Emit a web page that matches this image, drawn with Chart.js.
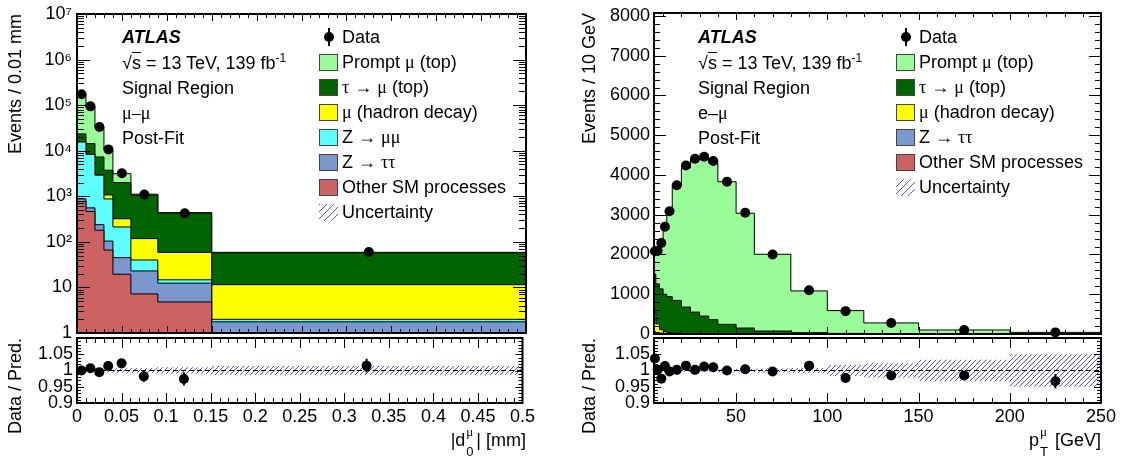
<!DOCTYPE html>
<html>
<head>
<meta charset="utf-8">
<title>ATLAS post-fit muon distributions</title>
<script src="https://cdn.jsdelivr.net/npm/chart.js@4.4.1/dist/chart.umd.min.js"></script>
<style>
  body { margin: 0; background: #fff; font-family: "Liberation Sans", Arial, sans-serif; }
  #page { position: relative; width: 1122px; height: 466px; overflow: hidden; background: #fff; }
  canvas { position: absolute; }
  .t { position: absolute; font-size: 18px; line-height: 20px; white-space: nowrap; color: #000; }
  .b { font-weight: bold; font-style: italic; }
  .g { font-family: "Liberation Serif", "DejaVu Serif", serif; }
  sup { font-size: 12px; line-height: 0; vertical-align: 7px; }
  .ss { position: relative; display: inline-block; width: 11px; height: 1px; }
  .ss .up { position: absolute; left: 1px; bottom: 8px; font-size: 13px; line-height: 13px; }
  .ss .dn { position: absolute; left: 1px; top: 0; font-size: 13px; line-height: 13px; }
  .key { position: absolute; width: 19px; height: 17px; box-sizing: border-box; border: 1px solid #444; }
  .hatch { border: none; background: repeating-linear-gradient(135deg, #5555ff 0 1px, transparent 1px 5px); }
  .dot { position: absolute; width: 10px; height: 10px; border-radius: 50%; background: #000; }
  .bar { position: absolute; width: 2px; height: 18px; background: #000; }
</style>
</head>
<body>
<div id="page">
  <canvas id="d0Main" width="540" height="347" style="left:0;top:0"></canvas>
  <canvas id="d0Ratio" width="540" height="140" style="left:0;top:325px"></canvas>
  <canvas id="ptMain" width="561" height="347" style="left:561px;top:0"></canvas>
  <canvas id="ptRatio" width="561" height="140" style="left:561px;top:325px"></canvas>

  <div class="t b" style="left:122px;top:27px">ATLAS</div>
  <div class="t" style="left:122px;top:53px">√<span style="text-decoration:overline">s</span> = 13 TeV, 139 fb<sup>-1</sup></div>
  <div class="t" style="left:122px;top:78px">Signal Region</div>
  <div class="t" style="left:122px;top:103px"><span class="g">μ–μ</span></div>
  <div class="t" style="left:122px;top:128px">Post-Fit</div>

  <div class="t b" style="left:698px;top:27px">ATLAS</div>
  <div class="t" style="left:698px;top:53px">√<span style="text-decoration:overline">s</span> = 13 TeV, 139 fb<sup>-1</sup></div>
  <div class="t" style="left:698px;top:78px">Signal Region</div>
  <div class="t" style="left:698px;top:103px">e–<span class="g">μ</span></div>
  <div class="t" style="left:698px;top:128px">Post-Fit</div>

  <div class="t" style="right:596px;top:430px">|d<span class="ss"><span class="up g">μ</span><span class="dn">0</span></span>| [mm]</div>
  <div class="t" style="right:21px;top:430px">p<span class="ss"><span class="up g">μ</span><span class="dn">T</span></span> [GeV]</div>
</div>
<script>
// ---- left: muon |d0|, mu-mu channel, events / 0.01 mm ----
const d0Edges = [0, 0.01, 0.02, 0.03, 0.04, 0.06, 0.09, 0.15, 0.5];
const d0Data = [174000, 94000, 33000, 10700, 3200, 1090, 426, 60];
const d0Prompt = [150600, 78600, 25700, 6870, 1130, 40, 7, 1.4];
const d0TauMu = [7800, 6040, 4340, 2660, 1680, 952, 371, 46];
const d0HadMu = [100, 60, 50, 196, 109, 78, 44, 9.5];
const d0Zmumu = [14600, 7740, 2670, 770, 167, 17, 2.3, 0.24];
const d0Ztautau = [108, 92, 58, 38, 25.5, 15.8, 7.6, 1.26];
const d0Other = [766, 465, 180, 66, 19.5, 7.2, 4.8, 0.5];
const d0Ratio = [1.0, 1.007, 0.995, 1.014, 1.022, 0.982, 0.974, 1.015];
const d0RatioErr = [0.002, 0.003, 0.004, 0.007, 0.012, 0.017, 0.02, 0.021];
const d0Unc = [0.004, 0.004, 0.005, 0.006, 0.007, 0.008, 0.01, 0.014];

// ---- right: muon pT, e-mu channel, events / 10 GeV ----
const ptEdges = [5, 6, 8, 10, 12, 15, 20, 25, 30, 35, 40, 50, 60, 80, 100, 120, 150, 200, 250];
const ptData = [2080, 2090, 2290, 2700, 3090, 3740, 4240, 4410, 4460, 4350, 3830, 3050, 2000, 1100, 575, 275, 100, 40];
const ptPrompt = [496, 826, 1214, 1663, 2159, 2888, 3500, 3850, 3956, 3947, 3587, 2888, 1931, 1051, 574, 271, 97.5, 39.4];
const ptTauMu = [975, 1005, 1025, 941, 905, 827, 667, 544, 446, 356, 240, 148, 73, 32, 14, 7.6, 3.7, 1.9];
const ptHadMu = [480, 220, 90, 45, 25, 10, 4, 2, 1, 1, 0.5, 0.3, 0.2, 0.1, 0.1, 0, 0, 0];
const ptZtautau = [30, 20, 10, 6, 4, 3, 2, 2, 1, 1, 1, 0.5, 0.5, 0.3, 0.2, 0.1, 0.1, 0];
const ptOther = [25, 15, 10, 8, 6, 5, 4, 3, 3, 2, 2, 1, 1, 1, 0.5, 0.3, 0.2, 0.1];
const ptRatio = [1.037, 1.002, 0.975, 1.014, 0.997, 1.002, 1.015, 1.002, 1.012, 1.01, 1.0, 1.004, 0.997, 1.015, 0.977, 0.985, 0.985, 0.967];
const ptRatioErr = [0.01, 0.008, 0.007, 0.006, 0.005, 0.004, 0.004, 0.004, 0.004, 0.004, 0.003, 0.004, 0.004, 0.005, 0.007, 0.01, 0.012, 0.022];
const ptUnc = [0.004, 0.004, 0.004, 0.004, 0.004, 0.004, 0.004, 0.004, 0.004, 0.004, 0.005, 0.005, 0.006, 0.008, 0.017, 0.022, 0.033, 0.05];

// tick labels
const d0YTicks = [1, 10, 100, 1e3, 1e4, 1e5, 1e6, 1e7];
const d0YLabels = ['1', '10', '10²', '10³', '10⁴', '10⁵', '10⁶', '10⁷'];
const d0XTicks = [0, 0.05, 0.1, 0.15, 0.2, 0.25, 0.3, 0.35, 0.4, 0.45, 0.5];
const d0XLabels = ['0', '0.05', '0.1', '0.15', '0.2', '0.25', '0.3', '0.35', '0.4', '0.45', '0.5'];
const ptYTicks = [0, 1000, 2000, 3000, 4000, 5000, 6000, 7000, 8000];
const ptYLabels = ['0', '1000', '2000', '3000', '4000', '5000', '6000', '7000', '8000'];
const ptXTicks = [50, 100, 150, 200, 250];
const ptXLabels = ['50', '100', '150', '200', '250'];
const ratioTicks = [0.9, 0.95, 1, 1.05];
const ratioLabels = ['0.9', '0.95', '1', '1.05'];

const colors = {
  prompt: 'rgb(153,252,153)',
  tauMu: 'rgb(0,100,0)',
  hadMu: 'rgb(255,255,0)',
  zmumu: 'rgb(94,255,255)',
  ztautau: 'rgb(122,152,206)',
  other: 'rgb(204,98,98)'
};

Chart.defaults.font.family = '"Liberation Sans", Arial, sans-serif';
Chart.defaults.color = '#000';

function steps(edges, vals) {
  const pts = vals.map((v, i) => ({ x: edges[i], y: v }));
  pts.push({ x: edges[edges.length - 1], y: vals[vals.length - 1] });
  return pts;
}
function centres(edges) {
  return edges.slice(1).map((e, i) => (e + edges[i]) / 2);
}
function running(layers) {
  let sum = layers[0].map(() => 0);
  return layers.map(l => (sum = sum.map((s, i) => s + l[i])));
}
function range(a, b, step) {
  const out = [];
  for (let v = a; v <= b + step / 1000; v += step) out.push(+v.toFixed(4));
  return out;
}
function logMinors(decades) {
  const out = [];
  for (let k = 0; k < decades; k++) for (let m = 2; m <= 9; m++) out.push(m * Math.pow(10, k));
  return out;
}
// pixel exact "/" hatch so the blue stays solid
function hatch() {
  const c = document.createElement('canvas');
  c.width = c.height = 5;
  const g = c.getContext('2d');
  g.fillStyle = '#4d4dff';
  for (let i = 0; i < 5; i++) g.fillRect(i, 4 - i, 1, 1);
  return g.createPattern(c, 'repeat');
}

// ROOT style frame with inward ticks on all four sides
const rootFrame = {
  id: 'rootFrame',
  afterDraw(chart, args, o) {
    const { ctx, chartArea: a } = chart;
    const x = chart.scales.x, y = chart.scales.y;
    ctx.save();
    ctx.strokeStyle = '#000';
    ctx.lineWidth = 1;
    ctx.beginPath();
    const xt = (vals, len) => vals.forEach(v => {
      const p = Math.round(x.getPixelForValue(v)) + 0.5;
      if (p < a.left || p > a.right) return;
      ctx.moveTo(p, a.bottom); ctx.lineTo(p, a.bottom - len);
      ctx.moveTo(p, a.top); ctx.lineTo(p, a.top + len);
    });
    const yt = (vals, len) => vals.forEach(v => {
      const p = Math.round(y.getPixelForValue(v)) + 0.5;
      if (p < a.top - 1 || p > a.bottom + 1) return;
      ctx.moveTo(a.left, p); ctx.lineTo(a.left + len, p);
      ctx.moveTo(a.right, p); ctx.lineTo(a.right - len, p);
    });
    xt(o.xMajor, o.xLen[0]); xt(o.xMinor, o.xLen[1]);
    yt(o.yMajor, o.yLen[0]); yt(o.yMinor, o.yLen[1]);
    ctx.stroke();
    ctx.lineWidth = 2;
    ctx.strokeRect(a.left, a.top, a.width, a.height);
    ctx.restore();
  }
};

const errorBars = {
  id: 'errorBars',
  afterDatasetsDraw(chart) {
    const { ctx } = chart;
    const y = chart.scales.y;
    chart.data.datasets.forEach((ds, i) => {
      if (!ds.errs) return;
      ctx.save();
      ctx.strokeStyle = '#000';
      ctx.lineWidth = 2;
      chart.getDatasetMeta(i).data.forEach((pt, j) => {
        const v = ds.data[j].y, e = ds.errs[j];
        ctx.beginPath();
        ctx.moveTo(pt.x, y.getPixelForValue(v - e));
        ctx.lineTo(pt.x, y.getPixelForValue(v + e));
        ctx.stroke();
      });
      ctx.restore();
    });
  }
};

function yAxis(o) {
  return {
    type: o.type || 'linear', min: o.min, max: o.max,
    afterFit: s => { s.width = o.width; },
    afterBuildTicks: s => { s.ticks = o.ticks.map(v => ({ value: v })); },
    ticks: { autoSkip: false, padding: o.pad, font: { size: 18, lineHeight: 1 }, callback: (v, i) => o.labels[i] },
    grid: { display: false, drawTicks: false },
    border: { display: false },
    title: { display: true, text: o.title, align: 'end', font: { size: 18 }, padding: { top: o.titlePad, bottom: 0 } }
  };
}

function dataPoints(edges, vals, errs) {
  return {
    data: centres(edges).map((x, i) => ({ x, y: vals[i] })),
    errs: errs,
    showLine: false, pointRadius: 5, pointBackgroundColor: '#000', pointBorderWidth: 0, clip: false
  };
}

function mainPlot(id, o) {
  const tops = running(o.layers.map(l => l.vals));
  const stack = o.layers.map((l, i) => ({
    data: steps(o.edges, tops[i]), stepped: true, fill: 'start',
    backgroundColor: l.color, borderColor: '#000', borderWidth: 1, pointRadius: 0
  }));
  return new Chart(document.getElementById(id), {
    type: 'line',
    data: { datasets: [dataPoints(o.edges, o.data), ...stack] },
    options: {
      responsive: false, animation: false, events: [],
      layout: { padding: o.padding },
      plugins: { legend: { display: false }, tooltip: { enabled: false }, rootFrame: o.frame },
      scales: {
        x: { type: 'linear', display: false, min: o.edges[0], max: o.edges[o.edges.length - 1] },
        y: yAxis(o.y)
      }
    },
    plugins: [rootFrame]
  });
}

function ratioPlot(id, o) {
  const xmin = o.edges[0], xmax = o.edges[o.edges.length - 1];
  const unity = { data: [{ x: xmin, y: 1 }, { x: xmax, y: 1 }], borderColor: '#000', borderWidth: 1, borderDash: [5, 3], pointRadius: 0 };
  const up = { data: steps(o.edges, o.unc.map(u => 1 + u)), stepped: true, fill: 3, backgroundColor: hatch(), borderWidth: 0, pointRadius: 0 };
  const lo = { data: steps(o.edges, o.unc.map(u => 1 - u)), stepped: true, fill: false, borderWidth: 0, pointRadius: 0 };
  return new Chart(document.getElementById(id), {
    type: 'line',
    data: { datasets: [dataPoints(o.edges, o.ratio, o.errs), unity, up, lo] },
    options: {
      responsive: false, animation: false, events: [],
      layout: { padding: o.padding },
      plugins: { legend: { display: false }, tooltip: { enabled: false }, rootFrame: o.frame },
      scales: {
        x: {
          type: 'linear', min: xmin, max: xmax,
          afterFit: s => { s.height = 30; },
          afterBuildTicks: s => { s.ticks = o.xTicks.map(v => ({ value: v })); },
          ticks: { autoSkip: false, maxRotation: 0, padding: 5, font: { size: 18, lineHeight: 1 }, callback: (v, i) => o.xLabels[i] },
          grid: { display: false, drawTicks: false },
          border: { display: false }
        },
        y: yAxis(o.y)
      }
    },
    plugins: [rootFrame, errorBars]
  });
}

function legend(left, top, entries) {
  const page = document.getElementById('page');
  const rows = [{ type: 'data', text: 'Data' }, ...entries, { type: 'hatch', text: 'Uncertainty' }];
  rows.forEach((r, i) => {
    const cy = top + i * 25;
    if (r.type === 'data') {
      const bar = document.createElement('div');
      bar.className = 'bar';
      bar.style.left = (left + 9) + 'px'; bar.style.top = (cy - 9) + 'px';
      page.appendChild(bar);
      const dot = document.createElement('div');
      dot.className = 'dot';
      dot.style.left = (left + 5) + 'px'; dot.style.top = (cy - 5) + 'px';
      page.appendChild(dot);
    } else {
      const key = document.createElement('div');
      key.className = r.type === 'hatch' ? 'key hatch' : 'key';
      if (r.color) key.style.background = r.color;
      key.style.left = left + 'px'; key.style.top = (cy - 8) + 'px';
      page.appendChild(key);
    }
    const t = document.createElement('div');
    t.className = 't';
    t.style.left = (left + 23) + 'px'; t.style.top = (cy - 10) + 'px';
    t.innerHTML = r.text.replace(/([μτ→])/g, '<span class="g">$1</span>');
    page.appendChild(t);
  });
}

const mainTicksX = { d0: [range(0, 0.5, 0.05), range(0, 0.5, 0.01)], pt: [range(50, 250, 50), range(10, 250, 10)] };

mainPlot('d0Main', {
  edges: d0Edges, data: d0Data,
  layers: [
    { vals: d0Other, color: colors.other },
    { vals: d0Ztautau, color: colors.ztautau },
    { vals: d0Zmumu, color: colors.zmumu },
    { vals: d0HadMu, color: colors.hadMu },
    { vals: d0TauMu, color: colors.tauMu },
    { vals: d0Prompt, color: colors.prompt }
  ],
  padding: { top: 10, right: 14, bottom: 11, left: 0 },
  y: { type: 'logarithmic', min: 1, max: 1e7, width: 77, pad: 5, ticks: d0YTicks, labels: d0YLabels, title: 'Events / 0.01 mm', titlePad: 5 },
  frame: { xMajor: mainTicksX.d0[0], xMinor: mainTicksX.d0[1], xLen: [7, 4], yMajor: d0YTicks, yMinor: logMinors(7), yLen: [13, 7] }
});

ratioPlot('d0Ratio', {
  edges: d0Edges, ratio: d0Ratio, errs: d0RatioErr, unc: d0Unc,
  xTicks: d0XTicks, xLabels: d0XLabels,
  padding: { top: 10, right: 14, bottom: 32, left: 0 },
  y: { min: 0.9, max: 1.1, width: 77, pad: 4, ticks: ratioTicks, labels: ratioLabels, title: 'Data / Pred.', titlePad: 5 },
  frame: { xMajor: mainTicksX.d0[0], xMinor: mainTicksX.d0[1], xLen: [10, 5], yMajor: range(0.9, 1.1, 0.05), yMinor: range(0.9, 1.1, 0.01), yLen: [7, 4] }
});

mainPlot('ptMain', {
  edges: ptEdges, data: ptData,
  layers: [
    { vals: ptOther, color: colors.other },
    { vals: ptZtautau, color: colors.ztautau },
    { vals: ptHadMu, color: colors.hadMu },
    { vals: ptTauMu, color: colors.tauMu },
    { vals: ptPrompt, color: colors.prompt }
  ],
  padding: { top: 10, right: 21, bottom: 11, left: 0 },
  y: { min: 0, max: 8075, width: 93, pad: 4, ticks: ptYTicks, labels: ptYLabels, title: 'Events / 10 GeV', titlePad: 18 },
  frame: { xMajor: mainTicksX.pt[0], xMinor: mainTicksX.pt[1], xLen: [7, 4], yMajor: ptYTicks, yMinor: range(0, 8000, 200), yLen: [12, 6] }
});

ratioPlot('ptRatio', {
  edges: ptEdges, ratio: ptRatio, errs: ptRatioErr, unc: ptUnc,
  xTicks: ptXTicks, xLabels: ptXLabels,
  padding: { top: 10, right: 21, bottom: 32, left: 0 },
  y: { min: 0.9, max: 1.1, width: 93, pad: 4, ticks: ratioTicks, labels: ratioLabels, title: 'Data / Pred.', titlePad: 18 },
  frame: { xMajor: mainTicksX.pt[0], xMinor: mainTicksX.pt[1], xLen: [10, 5], yMajor: range(0.9, 1.1, 0.05), yMinor: range(0.9, 1.1, 0.01), yLen: [7, 4] }
});

legend(319, 37, [
  { text: 'Prompt μ (top)', color: colors.prompt },
  { text: 'τ → μ (top)', color: colors.tauMu },
  { text: 'μ (hadron decay)', color: colors.hadMu },
  { text: 'Z → μμ', color: colors.zmumu },
  { text: 'Z → ττ', color: colors.ztautau },
  { text: 'Other SM processes', color: colors.other }
]);
legend(896, 37, [
  { text: 'Prompt μ (top)', color: colors.prompt },
  { text: 'τ → μ (top)', color: colors.tauMu },
  { text: 'μ (hadron decay)', color: colors.hadMu },
  { text: 'Z → ττ', color: colors.ztautau },
  { text: 'Other SM processes', color: colors.other }
]);
</script>
</body>
</html>
